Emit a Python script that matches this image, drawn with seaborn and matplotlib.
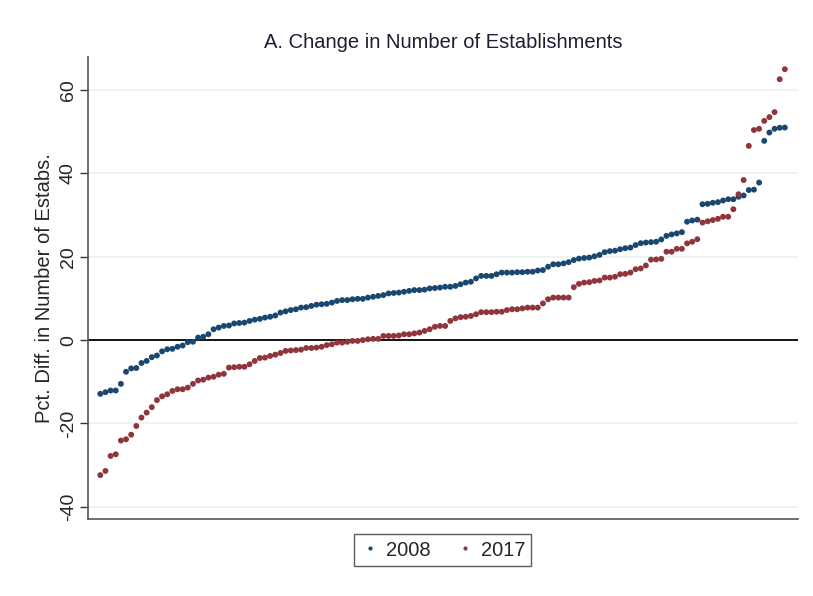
import numpy as np
import pandas as pd
import matplotlib
matplotlib.use("Agg")
import matplotlib.pyplot as plt
import seaborn as sns
from matplotlib.lines import Line2D

series_names = ["2008", "2017"]

vals_2008 = [
    -12.9, -12.5, -12.1, -12.1, -10.5, -7.6, -6.8, -6.7, -5.5, -5.0,
    -4.1, -3.7, -2.7, -2.2, -2.1, -1.6, -1.3, -0.5, -0.4, 0.6,
    0.8, 1.4, 2.6, 3.0, 3.4,
    3.5, 4.0, 4.1, 4.2, 4.6, 4.9, 5.1, 5.4, 5.6, 5.9,
    6.6, 6.9, 7.2, 7.4, 7.8, 7.9, 8.2, 8.5, 8.6, 8.7,
    9.0, 9.4, 9.6, 9.6, 9.8, 9.9, 9.9, 10.2, 10.4, 10.6,
    10.8, 11.2, 11.3, 11.4, 11.6, 11.8, 12.0, 12.0, 12.1, 12.4,
    12.5, 12.6, 12.8, 12.8, 13.0, 13.4, 13.8, 14.0, 14.8, 15.4,
    15.4, 15.4, 15.8, 16.2, 16.2, 16.2, 16.3, 16.3, 16.4, 16.4,
    16.7, 16.8, 17.6, 18.2, 18.2, 18.4, 18.7,
    19.2, 19.55, 19.7, 19.8, 20.1, 20.45, 21.1, 21.35, 21.45, 21.8,
    22.05, 22.2, 22.8, 23.25, 23.4, 23.5, 23.6, 24.15, 25.0,
    25.35, 25.6, 25.9, 28.4, 28.7, 28.9, 32.6, 32.7, 32.95, 33.1,
    33.5, 33.8, 33.8, 34.4, 34.7, 36.0, 36.1, 37.8, 47.8, 49.8,
    50.7, 50.95, 51.0,
]

vals_2017 = [
    -32.4, -31.4, -27.8, -27.4, -24.1, -23.8, -22.7, -20.6, -18.6, -17.4,
    -16.1, -14.4, -13.5, -13.0, -12.2, -11.8, -11.8, -11.4, -10.5, -9.7,
    -9.5, -9.0, -8.8, -8.3, -8.1,
    -6.6, -6.5, -6.4, -6.4, -5.8, -5.0, -4.3, -4.2, -3.8, -3.5,
    -3.1, -2.6, -2.5, -2.4, -2.3, -1.9, -1.9, -1.8, -1.6, -1.2,
    -1.0, -0.6, -0.6, -0.4, -0.2, -0.2, 0.0, 0.2, 0.3, 0.3,
    1.0, 1.0, 1.0, 1.1, 1.4, 1.4, 1.6, 1.8, 2.2, 2.6,
    3.2, 3.4, 3.4, 4.6, 5.2, 5.5, 5.6, 5.8, 6.2, 6.7,
    6.7, 6.7, 6.8, 6.8, 7.2, 7.4, 7.4, 7.6, 7.8, 7.8,
    7.8, 8.8, 9.8, 10.2, 10.2, 10.2, 10.2,
    12.7, 13.5, 13.8, 13.9, 14.2, 14.3, 15.0, 15.0, 15.2, 15.8,
    15.9, 16.2, 17.0, 17.2, 17.9,
    19.3, 19.35, 19.5, 21.2, 21.2, 21.9, 21.9, 23.2, 23.6, 24.2,
    28.2, 28.5, 28.8, 29.1, 29.6, 29.6, 31.4, 35.0, 38.4, 46.6,
    50.4, 50.7, 52.6, 53.5, 54.7, 62.6, 65.0,
]

y_ticks = [-40, -20, 0, 20, 40, 60]
title_text = "A. Change in Number of Establishments"
ylabel_text = "Pct. Diff. in Number of Estabs."

df = pd.DataFrame({
    "rank": list(range(len(vals_2008))) + list(range(len(vals_2017))),
    "value": vals_2008 + vals_2017,
    "year": [series_names[0]] * len(vals_2008) + [series_names[1]] * len(vals_2017),
})

sns.set_theme(style="white")
plt.rcParams["font.family"] = ["Liberation Sans", "DejaVu Sans"]

fig = plt.figure(figsize=(8.13, 5.96), dpi=100)
ax = fig.add_axes([88 / 813, 1 - 519.3 / 596, (797.7 - 88) / 813, (519.3 - 56.7) / 596])

palette = {"2008": "#1a476f", "2017": "#90353b"}

for yt in y_ticks:
    if yt != 0:
        ax.axhline(yt, color="#eaf2f3", lw=1.2, zorder=0)
ax.axhline(0, color="black", lw=1.3, zorder=1)

sns.scatterplot(data=df, x="rank", y="value", hue="year", palette=palette,
                s=18, linewidth=0, ax=ax, zorder=3, legend=False)

ax.set_xlim(-2.39, 135.5)
ax.set_ylim(-43.0, 68.0)
ax.set_yticks(y_ticks)
ax.set_yticklabels([str(t) for t in y_ticks], rotation=90, va="center", fontsize=14)
ax.set_xticks([])
ax.set_xlabel("")
ax.set_ylabel(ylabel_text, fontsize=14.5, labelpad=4)
ax.tick_params(axis="y", length=6, width=1, color="#333333", pad=2, left=True)
fig.text(443 / 813, 1 - 42 / 596, title_text, ha="center", va="center",
         fontsize=14.5, color="#1e1e32")

for side in ["top", "right"]:
    ax.spines[side].set_visible(False)
for side in ["left", "bottom"]:
    ax.spines[side].set_color("#555555")
    ax.spines[side].set_linewidth(1.2)

handles = [Line2D([0], [0], marker="o", linestyle="", markersize=3,
                  markerfacecolor=palette[n], markeredgewidth=0) for n in series_names]
leg = fig.legend(handles, series_names, loc="center", bbox_to_anchor=(442.5 / 813, 1 - 550 / 596),
                 ncol=2, frameon=True, fontsize=14.5, handletextpad=0.3, columnspacing=1.2,
                 fancybox=False, borderpad=0.3, handlelength=1.0)
leg.get_frame().set_edgecolor("#333333")
leg.get_frame().set_linewidth(1.0)

fig.savefig("out.png", dpi=100, facecolor="white")
